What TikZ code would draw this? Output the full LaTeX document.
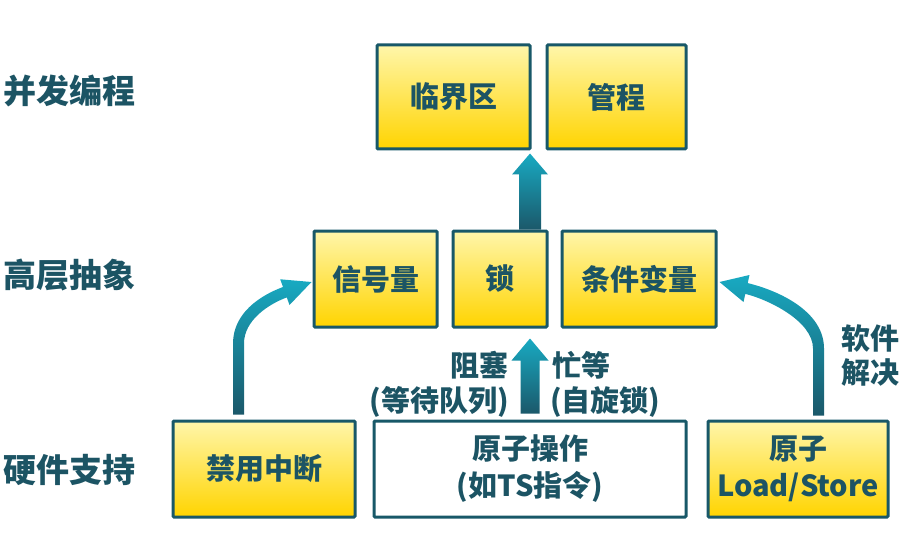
\documentclass[tikz,border=0pt]{standalone}
\usepackage{fontspec}
\setmainfont{Noto Sans CJK SC}
\usetikzlibrary{calc}
\definecolor{bord}{RGB}{24,88,104}
\definecolor{txt}{RGB}{28,84,100}
\definecolor{ytop}{RGB}{255,246,170}
\definecolor{ybot}{RGB}{255,212,0}
\definecolor{alight}{RGB}{24,170,194}
\definecolor{adark}{RGB}{27,88,106}
\begin{document}
\begin{tikzpicture}[x=1pt,y=-1pt,
  box/.style={draw=bord, line width=3pt, top color=ytop, bottom color=ybot,
    font=\fontsize{29}{37}\selectfont\bfseries, text=txt, align=center,
    inner sep=0pt, rounded corners=1pt},
  wbox/.style={box, top color=white, bottom color=white},
  lab/.style={font=\fontsize{33}{40}\selectfont\bfseries, text=txt, inner sep=0pt, anchor=west},
  ann/.style={font=\fontsize{29}{35}\selectfont\bfseries, text=txt, inner sep=0pt, align=left},
  arr/.style={top color=alight, bottom color=adark, draw=none}]
\useasboundingbox (0,0) rectangle (907,540);

% left level labels
\node[lab] (lv1) at (3,91) {并发编程};
\node[lab] (lv2) at (3,275) {高层抽象};
\node[lab] (lv3) at (3,470) {硬件支持};

% top row
\node[box, minimum width=153pt, minimum height=104pt] (crit) at (453.5,97) {临界区};
\node[box, minimum width=139pt, minimum height=104pt] (mon) at (616.5,97) {管程};

% middle row
\node[box, minimum width=123pt, minimum height=96pt] (sem) at (375.5,279) {信号量};
\node[box, minimum width=94pt, minimum height=96pt] (lock) at (500,279) {锁};
\node[box, minimum width=154pt, minimum height=96pt] (cv) at (639,279) {条件变量};

% bottom row
\node[box, minimum width=182pt, minimum height=96pt] (intr) at (264,469) {禁用中断};
\node[wbox, minimum width=312pt, minimum height=96pt] (atomic) at (530,469) {原子操作\\(如TS指令)};
\node[box, minimum width=180pt, minimum height=96pt] (ls) at (798,469) {原子\\Load/Store};

% annotations
\node[ann, anchor=east] (a1) at (509,365) {阻塞};
\node[ann, anchor=east] (a2) at (509,402) {(等待队列)};
\node[ann, anchor=west] (a3) at (552,365) {忙等};
\node[ann, anchor=west] (a4) at (550,402) {(自旋锁)};
\node[ann, anchor=west] (a5) at (841,356) {软件\\[-1pt]解决};

% top straight arrow: lock -> crit
\coordinate (t1) at ($(lock.north)+(30,0)$);
\coordinate (ttip) at ($(t1 |- crit.south)+(0,3)$);
\shade[arr] ($(t1)+(-11,0)$) -- ($(ttip)+(-11,21)$) -- ($(ttip)+(-18,21)$) -- (ttip)
  -- ($(ttip)+(18,21)$) -- ($(ttip)+(11,21)$) -- ($(t1)+(11,0)$) -- cycle;

% middle straight arrow: atomic -> lock
\coordinate (m1) at ($(atomic.north)+(0,-6)$);
\coordinate (mtip) at ($(m1 |- lock.south)+(0,10)$);
\shade[arr] ($(m1)+(-9.5,0)$) -- ($(mtip)+(-9.5,22)$) -- ($(mtip)+(-18.5,22)$) -- (mtip)
  -- ($(mtip)+(18.5,22)$) -- ($(mtip)+(9.5,22)$) -- ($(m1)+(9.5,0)$) -- cycle;

% left curved arrow: intr -> sem
\coordinate (l0) at ($(intr.north west)+(67,-5)$);
\coordinate (ltip) at ($(sem.west)+(-1,3)$);
\shade[arr] ($(l0)+(-5.5,0)$) -- ($(l0)+(-5.5,-71)$)
  .. controls ($(l0)+(-5.5,-101)$) and ($(ltip)+(-52,13.7)$) .. ($(ltip)+(-28.5,5)$)
  -- ($(ltip)+(-31.3,-2.7)$) -- (ltip) -- ($(ltip)+(-22,23)$) -- ($(ltip)+(-24.7,15.4)$)
  .. controls ($(ltip)+(-43.5,22.4)$) and ($(l0)+(5.5,-94)$) .. ($(l0)+(5.5,-71)$)
  -- ($(l0)+(5.5,0)$) -- cycle;

% right curved arrow: ls -> cv
\coordinate (r0) at ($(ls.north west)+(112,-4)$);
\coordinate (rtip) at ($(cv.east)+(2,3)$);
\shade[arr] ($(r0)+(5.5,0)$) -- ($(r0)+(5.5,-67)$)
  .. controls ($(r0)+(5.5,-105)$) and ($(rtip)+(57.4,8.1)$) .. ($(rtip)+(28.2,1.1)$)
  -- ($(rtip)+(30,-7)$) -- (rtip) -- ($(rtip)+(24,20)$) -- ($(rtip)+(25.8,11.9)$)
  .. controls ($(rtip)+(47.2,17)$) and ($(r0)+(-5.5,-95)$) .. ($(r0)+(-5.5,-67)$)
  -- ($(r0)+(-5.5,0)$) -- cycle;
\end{tikzpicture}
\end{document}
